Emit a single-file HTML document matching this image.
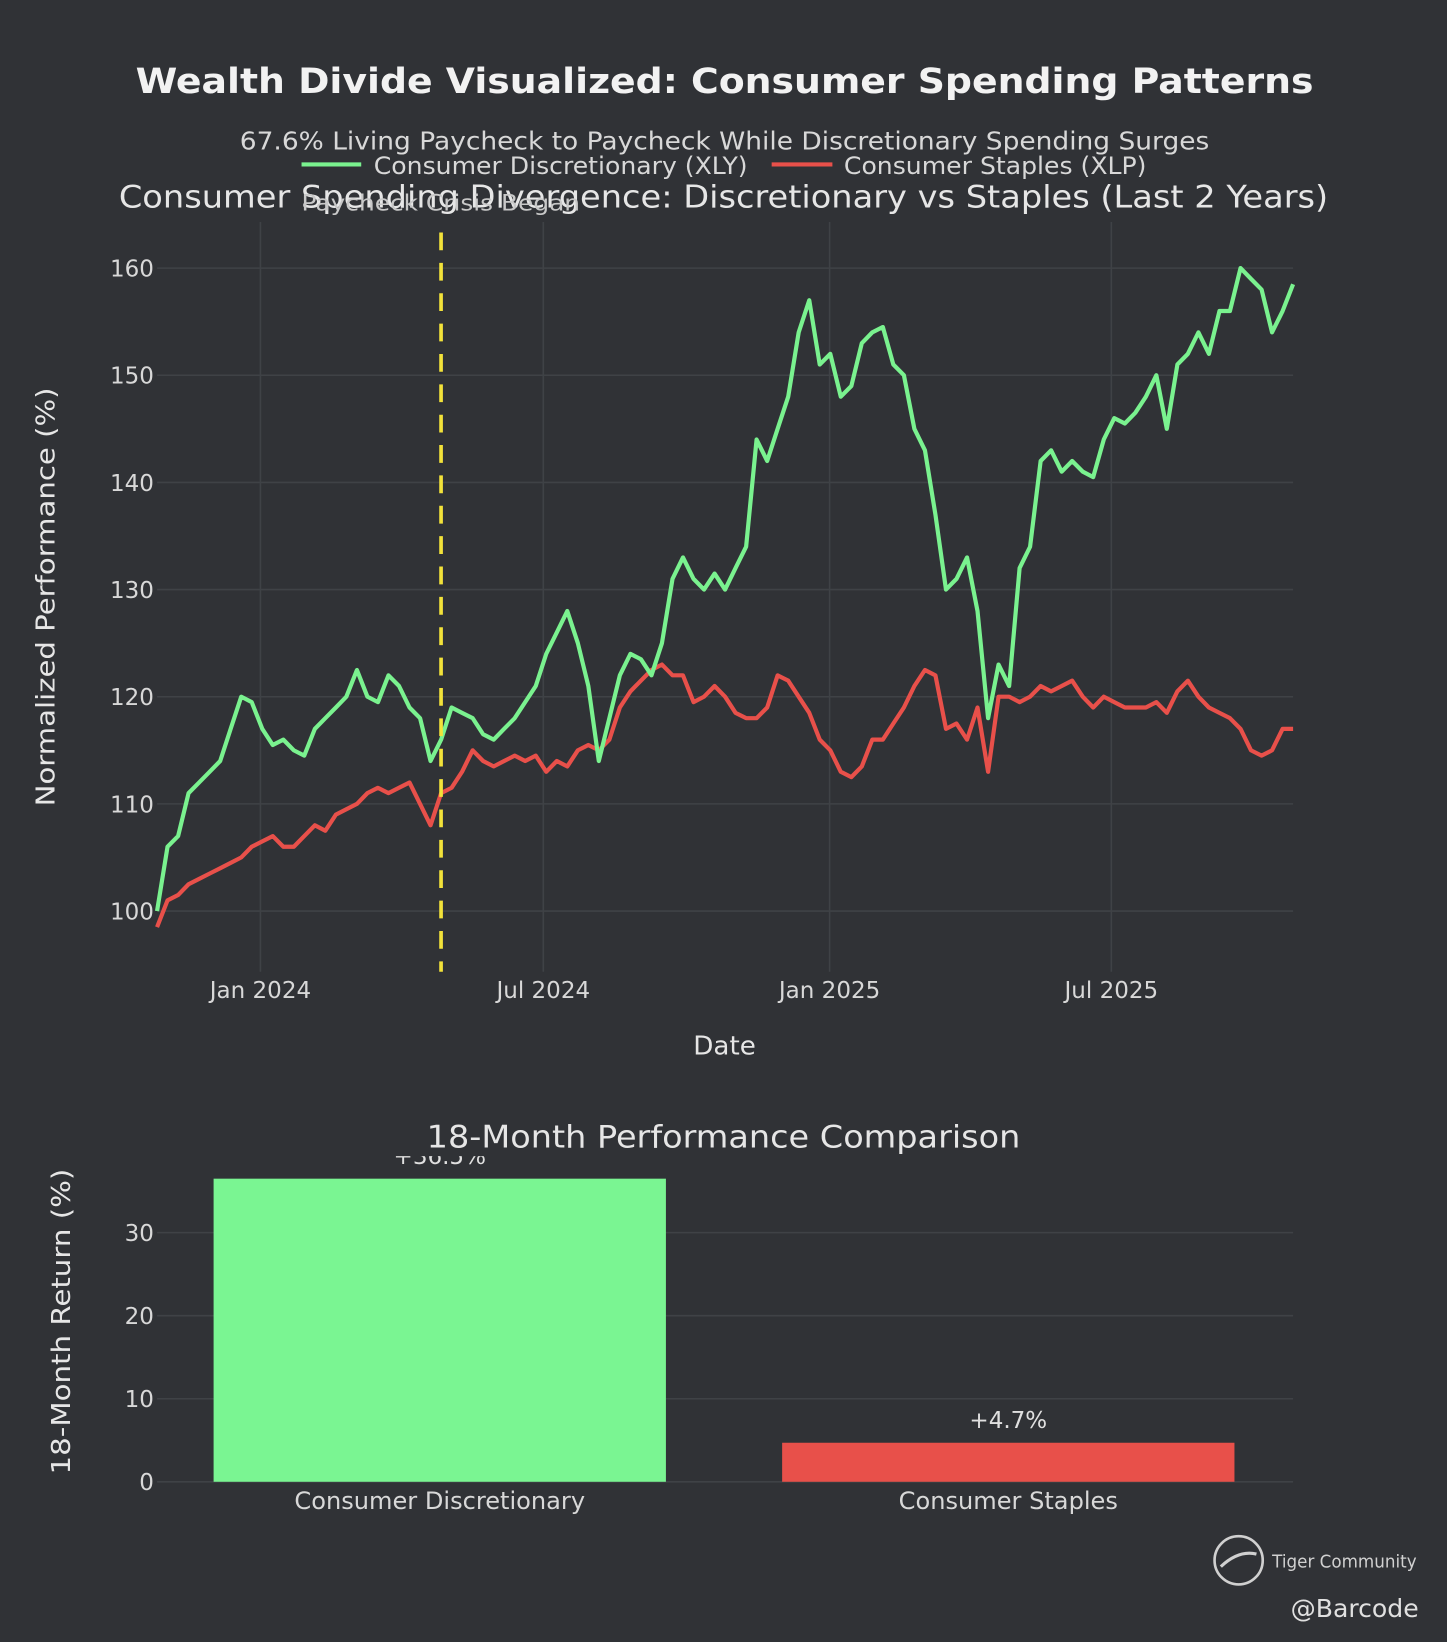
<!DOCTYPE html>
<html><head><meta charset="utf-8"><style>
html,body{margin:0;padding:0;background:#303236;}
svg{display:block;font-family:"DejaVu Sans","Liberation Sans",sans-serif;}
</style></head><body>
<svg id="svg" width="1447" height="1642" viewBox="0 0 1382 1568" preserveAspectRatio="none" xmlns="http://www.w3.org/2000/svg">
<rect x="0" y="0" width="1382" height="1568" fill="#303236"/>
<text x="692" y="89" text-anchor="middle" font-size="33" font-weight="bold" fill="#f2f2f2" textLength="1125" lengthAdjust="spacingAndGlyphs">Wealth Divide Visualized: Consumer Spending Patterns</text>
<text x="692" y="143" text-anchor="middle" font-size="24" fill="#d8d8d8" textLength="926" lengthAdjust="spacingAndGlyphs">67.6% Living Paycheck to Paycheck While Discretionary Spending Surges</text>
<g>
<g><line x1="288" y1="157" x2="345" y2="157" stroke="#7af28f" stroke-width="4"/><text x="357" y="166" font-size="23" fill="#d8d8d8" textLength="357" lengthAdjust="spacingAndGlyphs">Consumer Discretionary (XLY)</text></g>
<g><line x1="737" y1="157" x2="795" y2="157" stroke="#e8504a" stroke-width="4"/><text x="806" y="166" font-size="23" fill="#d8d8d8" textLength="289" lengthAdjust="spacingAndGlyphs">Consumer Staples (XLP)</text></g>
</g>
<text x="691" y="198" text-anchor="middle" font-size="30" fill="#e6e6e6" textLength="1155" lengthAdjust="spacingAndGlyphs">Consumer Spending Divergence: Discretionary vs Staples (Last 2 Years)</text>
<g id="lineChart"></g>
<text x="421" y="201" text-anchor="middle" font-size="21" fill="#c8c8c8" textLength="266" lengthAdjust="spacingAndGlyphs">Paycheck Crisis Began</text>
<text x="692" y="1007" text-anchor="middle" font-size="25" fill="#e6e6e6">Date</text>
<text transform="translate(52,570) rotate(-90)" text-anchor="middle" font-size="25" fill="#e6e6e6" textLength="400" lengthAdjust="spacingAndGlyphs">Normalized Performance (%)</text>
<g id="barChart"></g>
<text x="691" y="1096" text-anchor="middle" font-size="30" fill="#e6e6e6" textLength="567" lengthAdjust="spacingAndGlyphs">18-Month Performance Comparison</text>
<text transform="translate(67,1262) rotate(-90)" text-anchor="middle" font-size="25" fill="#e6e6e6" textLength="292" lengthAdjust="spacingAndGlyphs">18-Month Return (%)</text>
<g>
<circle cx="1183" cy="1490" r="23" fill="none" stroke="#d0d0d0" stroke-width="2.5"/>
<path d="M1166 1496 q17 -16 34 -12" fill="none" stroke="#d0d0d0" stroke-width="3"/>
<text x="1215" y="1497" font-size="17" fill="#d0d0d0" textLength="138" lengthAdjust="spacingAndGlyphs">Tiger Community</text>
</g>
<text x="1355" y="1544" text-anchor="end" font-size="24" fill="#e0e0e0">@Barcode</text>
</svg>
<script>
// Line chart data (sampled ~every 4.5 days, Oct 2023 - Oct 2025)
const xlyValues = [100,106,107,111,112,113,114,117,120,119.5,117,115.5,116,115,114.5,117,118,119,120,122.5,120,119.5,122,121,119,118,114,116,119,118.5,118,116.5,116,117,118,119.5,121,124,126,128,125,121,114,118,122,124,123.5,122,125,131,133,131,130,131.5,130,132,134,144,142,145,148,154,157,151,152,148,149,153,154,154.5,151,150,145,143,137,130,131,133,128,118,123,121,132,134,142,143,141,142,141,140.5,144,146,145.5,146.5,148,150,145,151,152,154,152,156,156,160,159,158,154,156,158.5];
const xlpValues = [98.5,101,101.5,102.5,103,103.5,104,104.5,105,106,106.5,107,106,106,107,108,107.5,109,109.5,110,111,111.5,111,111.5,112,110,108,111,111.5,113,115,114,113.5,114,114.5,114,114.5,113,114,113.5,115,115.5,115,116,119,120.5,121.5,122.5,123,122,122,119.5,120,121,120,118.5,118,118,119,122,121.5,120,118.5,116,115,113,112.5,113.5,116,116,117.5,119,121,122.5,122,117,117.5,116,119,113,120,120,119.5,120,121,120.5,121,121.5,120,119,120,119.5,119,119,119,119.5,118.5,120.5,121.5,120,119,118.5,118,117,115,114.5,115,117,117];
const yTicks = [100,110,120,130,140,150,160];
const xTickLabels = ["Jan 2024","Jul 2024","Jan 2025","Jul 2025"];
const xTickFrac = [0.091,0.340,0.592,0.840];
const eventFrac = [0.250];
// Bar chart data
const barCategories = ["Consumer Discretionary","Consumer Staples"];
const barValues = [36.5,4.7];
const barLabels = ["+36.5%","+4.7%"];
const barTicks = [0,10,20,30];

const NS="http://www.w3.org/2000/svg";
function mk(tag,attrs,parent,text){const e=document.createElementNS(NS,tag);for(const k in attrs)e.setAttribute(k,attrs[k]);if(text!==undefined)e.textContent=text;parent.appendChild(e);return e;}

const L={x0:150,x1:1235};
const yS=v=>870-(v-100)*10.233;
const xS=f=>L.x0+f*(L.x1-L.x0);
const lc=document.getElementById('lineChart');
yTicks.forEach(t=>{
  const g=mk('line',{x1:150,x2:1235,y1:yS(t),y2:yS(t),stroke:'#3f4246','stroke-width':1.5},lc);
  
  
  const tx=mk('text',{x:147,y:yS(t)+8,'text-anchor':'end','font-size':22,fill:'#d8d8d8'},lc,String(t));
  
  
});
xTickLabels.forEach((lab,i)=>{
  const x=xS(xTickFrac[i]);
  const g=mk('line',{x1:x,x2:x,y1:212,y2:928,stroke:'#3f4246','stroke-width':1.5},lc);
  
  
  const tx=mk('text',{x:x,y:953,'text-anchor':'middle','font-size':22,fill:'#d8d8d8'},lc,lab);
  
  
});
function linePath(vals){return vals.map((v,i)=>(i?'L':'M')+xS(i/(vals.length-1)).toFixed(1)+' '+yS(v).toFixed(1)).join(' ');}
const pg=mk('path',{d:linePath(xlpValues),fill:'none',stroke:'#e8504a','stroke-width':4,'stroke-linejoin':'round'},lc);


const pl=mk('path',{d:linePath(xlyValues),fill:'none',stroke:'#7af28f','stroke-width':4,'stroke-linejoin':'round'},lc);


const ex=xS(eventFrac[0]);
const ev=mk('line',{x1:ex,x2:ex,y1:222,y2:928,stroke:'#f2e23a','stroke-width':3.5,'stroke-dasharray':'17 12'},lc);



const bc=document.getElementById('barChart');
const bY=v=>1415-v*7.93;
barTicks.forEach(t=>{
  const g=mk('line',{x1:150,x2:1235,y1:bY(t),y2:bY(t),stroke:'#3f4246','stroke-width':1.5},bc);
  
  
  const tx=mk('text',{x:147,y:bY(t)+8,'text-anchor':'end','font-size':22,fill:'#d8d8d8'},bc,String(t));
  
  
});
const clip=mk('clipPath',{id:'bclip'},bc);
mk('rect',{x:150,y:1104,width:1085,height:330},clip);
const colors=['#7af592','#e8504a'];
const bw=432, centers=[420,963];
barCategories.forEach((c,i)=>{
  const r=mk('rect',{x:centers[i]-bw/2,y:bY(barValues[i]),width:bw,height:bY(0)-bY(barValues[i]),fill:colors[i]},bc);
  
  
  const vl=mk('text',{x:centers[i],y:bY(barValues[i])-14,'text-anchor':'middle','font-size':22,fill:'#e0e0e0','clip-path':'url(#bclip)'},bc,barLabels[i]);
  
  
  const cl=mk('text',{x:centers[i],y:1441,'text-anchor':'middle','font-size':23,fill:'#d8d8d8'},bc,c);
  
  
});
</script>
</body></html>
